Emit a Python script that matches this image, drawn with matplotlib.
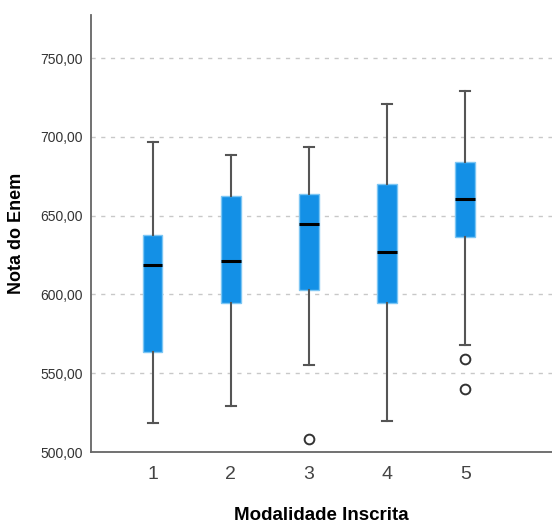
import matplotlib
matplotlib.use("Agg")
import matplotlib.pyplot as plt

# Boxplot statistics
categories = ["1", "2", "3", "4", "5"]
whisker_low = [518.4, 529.1, 555.2, 519.6, 567.6]
q1 = [563.2, 594.7, 602.5, 594.5, 636.2]
medians = [618.6, 621.0, 644.9, 626.7, 660.5]
q3 = [637.7, 662.6, 663.7, 669.8, 684.0]
whisker_high = [696.7, 688.4, 693.7, 721.0, 729.3]
outliers = [[], [], [508.0], [], [559.0, 540.1]]

yticks = [500, 550, 600, 650, 700, 750]

plt.rcParams["font.family"] = ["Liberation Sans", "DejaVu Sans"]

stats = []
for i, cat in enumerate(categories):
    stats.append({
        "label": cat,
        "whislo": whisker_low[i],
        "q1": q1[i],
        "med": medians[i],
        "q3": q3[i],
        "whishi": whisker_high[i],
        "fliers": outliers[i],
    })

fig = plt.figure(figsize=(5.52, 5.22), dpi=100)
ax = fig.add_axes([91.3 / 552, 70 / 522, 1 - 91.3 / 552, (452 - 14.7) / 522])

ax.bxp(
    stats,
    positions=range(1, len(categories) + 1),
    widths=0.25,
    patch_artist=True,
    showfliers=True,
    boxprops=dict(facecolor="#1390e6", edgecolor="#7cc6f4", linewidth=1.0),
    medianprops=dict(color="black", linewidth=2.2),
    whiskerprops=dict(color="#555555", linewidth=1.5),
    capprops=dict(color="#555555", linewidth=1.5),
    capwidths=0.13,
    flierprops=dict(marker="o", markersize=7, markerfacecolor="white",
                    markeredgecolor="#333333", markeredgewidth=1.4),
    zorder=3,
)

ax.set_xlim(0.214, 6.11)
ax.set_ylim(500, 777.5)
ax.set_yticks(yticks)
ax.set_yticklabels([f"{v:.2f}".replace(".", ",") for v in yticks])
ax.set_xticks(range(1, len(categories) + 1))
ax.set_xticklabels(categories)

ax.grid(axis="y", linestyle=(0, (3, 4)), color="#c8c8c8", linewidth=1.0, zorder=0)
ax.set_axisbelow(True)

for side in ["top", "right"]:
    ax.spines[side].set_visible(False)
for side in ["left", "bottom"]:
    ax.spines[side].set_color("#666666")
    ax.spines[side].set_linewidth(1.3)

ax.tick_params(axis="y", length=0, pad=6, labelsize=10, labelcolor="#333333")
ax.tick_params(axis="x", length=0, pad=10, labelsize=14, labelcolor="#444444")

ax.set_xlabel("Modalidade Inscrita", fontsize=13.5, fontweight="bold", labelpad=17)
ax.set_ylabel("Nota do Enem", fontsize=13, fontweight="bold", labelpad=11)

plt.savefig("out.png", dpi=100)
